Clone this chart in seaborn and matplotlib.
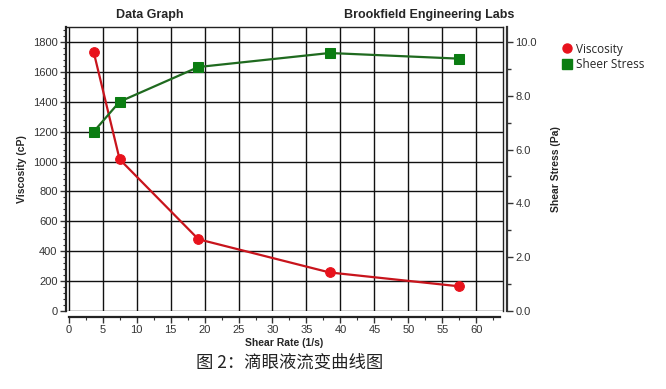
import matplotlib
matplotlib.use("Agg")
import matplotlib.pyplot as plt
import seaborn as sns
import pandas as pd
from matplotlib.lines import Line2D
from matplotlib.ticker import MultipleLocator, AutoMinorLocator, FormatStrFormatter

# === Data ===
shear_rate = [3.7, 7.5, 19.1, 38.4, 57.5]
viscosity = [1730, 1015, 480, 258, 165]
sheer_stress = [6.67, 7.78, 9.07, 9.59, 9.38]
series_names = ["Viscosity", "Sheer Stress"]

df = pd.DataFrame({"rate": shear_rate, "visc": viscosity, "stress": sheer_stress})

sns.set_style("white")
plt.rcParams["font.family"] = ["Liberation Sans", "DejaVu Sans"]

fig = plt.figure(figsize=(6.66, 3.89), dpi=100)
ax = fig.add_axes([0.099, 0.2005, 0.656, 0.730])
ax2 = ax.twinx()

red = "#e8121c"
green = "#0b7d12"

sns.lineplot(data=df, x="rate", y="visc", ax=ax, color="#c8141c", lw=1.6,
             marker="o", markersize=7, markerfacecolor=red, markeredgecolor=red, zorder=5)
sns.lineplot(data=df, x="rate", y="stress", ax=ax2, color="#1f6a1f", lw=1.6,
             marker="s", markersize=7, markerfacecolor=green, markeredgecolor=green, zorder=5)

ax.set_xlim(-0.4, 63.9)
ax.set_ylim(0, 1900)
ax2.set_ylim(0, 1900 / 180)

ax.xaxis.set_major_locator(MultipleLocator(5))
ax.xaxis.set_minor_locator(MultipleLocator(2.5))
ax.yaxis.set_major_locator(MultipleLocator(200))
ax.yaxis.set_minor_locator(AutoMinorLocator(5))
ax2.yaxis.set_major_locator(MultipleLocator(2))
ax2.yaxis.set_minor_locator(MultipleLocator(1))
ax2.yaxis.set_major_formatter(FormatStrFormatter("%.1f"))

ax.grid(True, which="major", color="#111111", lw=1.0)
ax.set_axisbelow(True)

for s in ["top", "right", "left", "bottom"]:
    ax.spines[s].set_color("#222222")
    ax.spines[s].set_linewidth(1.0)
ax.spines["bottom"].set_position(("outward", 4))
ax.spines["bottom"].set_bounds(0, 63.5)
ax.spines["bottom"].set_linewidth(1.6)
ax.spines["left"].set_linewidth(1.6)
for s in ["top", "left", "bottom"]:
    ax2.spines[s].set_visible(False)
ax2.spines["right"].set_position(("outward", 3))
ax2.spines["right"].set_linewidth(1.6)
ax2.spines["right"].set_color("#333333")

ax.tick_params(axis="both", which="major", direction="out", length=4, width=1,
               labelsize=8, colors="#333333", pad=2, left=True, bottom=True)
ax.tick_params(axis="both", which="minor", direction="out", length=2, width=0.8,
               colors="#333333", left=True, bottom=True)
ax2.tick_params(axis="y", which="major", direction="out", length=4, width=1,
                labelsize=8, colors="#333333", pad=2, right=True)
ax2.tick_params(axis="y", which="minor", direction="out", length=3, width=1,
                colors="#333333", right=True)

ax.set_xlabel("Shear Rate (1/s)", fontsize=7.5, fontweight="bold", labelpad=2)
ax.set_ylabel("Viscosity (cP)", fontsize=7.5, fontweight="bold", labelpad=4)
ax2.set_ylabel("Shear Stress (Pa)", fontsize=7.5, fontweight="bold", labelpad=10)

fig.text(0.225, 0.962, "Data Graph", ha="center", va="center", fontsize=9, fontweight="bold")
fig.text(0.645, 0.962, "Brookfield Engineering Labs", ha="center", va="center",
         fontsize=9, fontweight="bold")

# legend outside on the right
handles = [Line2D([], [], ls="none", marker="o", color=red, markersize=6.5),
           Line2D([], [], ls="none", marker="s", color=green, markersize=6.5)]
fig.legend(handles, series_names, loc="upper left",
           bbox_to_anchor=(0.826, 0.918), frameon=False,
           handletextpad=0.3, labelspacing=0.25, handlelength=1.0,
           prop={"family": ["Open Sans", "DejaVu Sans"], "size": 8.5})

fig.text(0.435, 0.068, "图 2：滴眼液流变曲线图", ha="center", va="center", fontsize=12.5,
         family=["Noto Sans CJK SC", "DejaVu Sans"], color="#222222")

fig.savefig("out.png", dpi=100, facecolor="white")
